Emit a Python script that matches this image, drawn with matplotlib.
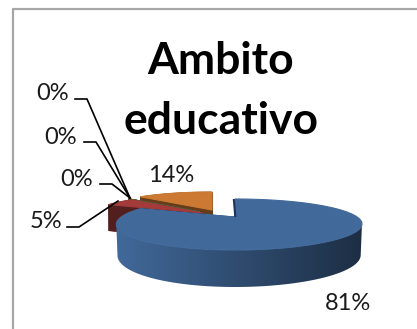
import numpy as np
import matplotlib
matplotlib.use('Agg')
import matplotlib.pyplot as plt
from matplotlib.patches import Polygon

# pie data, clockwise from 12 o'clock
title = 'Ambito\neducativo'
shares = [81, 5, 0, 0, 0, 14]
labels = ['81%', '5%', '0%', '0%', '0%', '14%']
colors = ['#41699a', '#a33b3b', '#5f7f35', '#5b4478', '#2f8095', '#cc7a33']

# where each slice's tip sits once pulled out, in pixels
apex_x = [235, 203, 200, 200, 200, 212]
apex_y = [217, 213, 212, 212, 212, 210]
draw_order = [5, 4, 3, 2, 1, 0]

# label text position and leader line (None = no leader)
label_pos = [(348, 304), (46, 221), (77, 180), (61, 137), (53, 94), (171, 175)]
leaders = [None,
           [(67, 227), (79, 227), (118, 201)],
           [(100, 184), (112, 184), (130, 198)],
           [(84, 142), (96, 142), (130, 198)],
           [(75, 99), (87, 99), (130, 198)],
           None]

RADIUS = 118
SKEW = 0.035
PERSP = 0.3


def project(x0, y0, u, v):
    x = x0 + RADIUS * u * (1 + SKEW * u) * (1 + PERSP * v)
    y = y0 + 25.5 * v + 7.5 * v ** 2
    return x, y


def drop(v):
    return 29 + 8 * v


def shade(col, f):
    return np.clip(np.array(matplotlib.colors.to_rgb(col)) * f, 0, 1)


def rim(a0, a1):
    n = max(2, int(abs(a1 - a0)))
    t = np.radians(np.linspace(a0, a1, n))
    return np.sin(t), -np.cos(t)


def draw_slice(ax, x0, y0, a0, a1, col, z):
    u, v = rim(a0, a1)
    x, y = project(x0, y0, u, v)
    dark = shade(col, 0.5)

    # flat cut faces
    for i in (0, -1):
        face = [(x0, y0), (x[i], y[i]), (x[i], y[i] + drop(v[i])), (x0, y0 + drop(0))]
        ax.add_patch(Polygon(face, closed=True, fc=dark, ec=dark, lw=0.5, zorder=z))

    # outer wall
    lower_x = x * 0.99 + x0 * 0.01
    lower_y = y + drop(v)
    if col == colors[0]:
        # largest slice gets darker towards the right, only its front part shows
        i0, i1 = np.argmax(x), np.argmin(x)
        wall = list(zip(x[i0:i1 + 1], y[i0:i1 + 1])) + list(zip(lower_x[i0:i1 + 1][::-1], lower_y[i0:i1 + 1][::-1]))
        grad = np.linspace(1.0, 0.44, 256)[None, :, None] * np.array(matplotlib.colors.to_rgb(col))
        extent = (x.min(), x.max(), lower_y.max(), y.min())
        clip = Polygon(wall, closed=True, fc='none', ec='none', transform=ax.transData)
        ax.add_patch(clip)
        ax.imshow(grad, extent=extent, aspect='auto', zorder=z + 0.1, clip_path=clip, interpolation='bilinear')
    else:
        wall = list(zip(x, y)) + list(zip(lower_x[::-1], lower_y[::-1]))
        ax.add_patch(Polygon(wall, closed=True, fc=dark, ec=dark, lw=0.5, zorder=z + 0.1))

    pts = [(x0, y0)] + list(zip(x, y))
    ax.add_patch(Polygon(pts, closed=True, fc=col, ec=col, lw=0.8, zorder=z + 0.2))


fig = plt.figure(figsize=(4.17, 3.29), dpi=100)
ax = fig.add_axes([0, 0, 1, 1])
ax.axis('off')

# chart frame, runs off the right and bottom
ax.plot([13.5, 13.5, 417], [329, 8.5, 8.5], color='#a6a6a6', lw=1.6, solid_capstyle='butt')

edges = np.cumsum([0] + shares) / sum(shares) * 360
for z, i in enumerate(draw_order):
    draw_slice(ax, apex_x[i], apex_y[i], edges[i], edges[i + 1], colors[i], z + 2)

# dark sliver on the first slice's start edge
sx, sy = project(apex_x[0], apex_y[0], 0, -1)
ax.plot([sx - 1.2, apex_x[0] + 0.3], [sy, apex_y[0]], color='#1f3553', lw=1.5,
        solid_capstyle='butt', zorder=10)

for pos, txt, line in zip(label_pos, labels, leaders):
    ax.text(pos[0], pos[1], txt, family='Lato', fontsize=17, color='#1a1a1a', ha='center', va='center')
    if line is not None:
        xs, ys = zip(*line)
        ax.plot(xs, ys, color='black', lw=1.2, zorder=11)

ax.text(221, 91, title, family='Lato', fontweight='bold', fontsize=32, color='black',
        ha='center', va='center', linespacing=1.62)

# imshow resets the limits, so set them last
ax.set_xlim(0, 417)
ax.set_ylim(329, 0)

fig.savefig('out.png', dpi=100)
